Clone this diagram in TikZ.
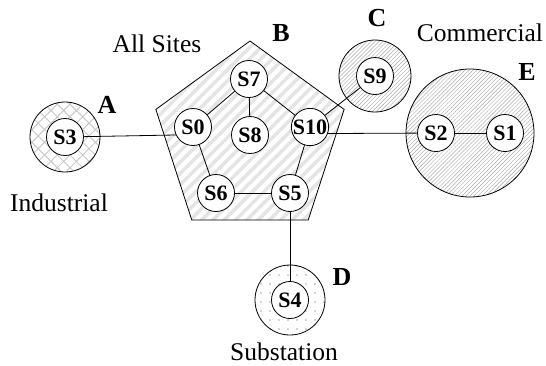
\documentclass[tikz,border=0pt]{standalone}
\usepackage{fontspec}
\setmainfont{Liberation Serif}
\usetikzlibrary{shapes.geometric, patterns.meta}
\definecolor{hcol}{RGB}{200,200,200}
\definecolor{scol}{RGB}{228,228,228}
\definecolor{lcol}{RGB}{170,170,170}
\definecolor{dotc}{RGB}{170,170,170}
\tikzset{
  ND/.style={circle, draw, fill=white, line width=0.8pt, inner sep=0pt,
             minimum size=37pt, font=\fontsize{22}{22}\selectfont\bfseries},
  RG/.style={circle, draw, line width=0.8pt, inner sep=0pt},
  LB/.style={font=\fontsize{26}{26}\selectfont\bfseries},
  TX/.style={font=\fontsize{25.5}{26}\selectfont},
  CN/.style={line width=0.8pt},
}

\begin{document}
\begin{tikzpicture}[x=1pt, y=-1pt]
\useasboundingbox (0,0) rectangle (546,365);

%% ================================================================
%%  ZONES
%% ================================================================
% B -- all sites
\node[regular polygon, regular polygon sides=5, minimum size=198pt,
      inner sep=0pt, draw, line width=0.8pt,
      pattern={Lines[angle=45, distance=8pt, line width=3.5pt]},
      pattern color=scol] (zoneB) at (250,140) {};

% A -- industrial
\node[RG, minimum size=70pt,
      pattern={Hatch[angle=45, distance=9pt, line width=1pt]},
      pattern color=hcol] (zoneA) at (65,137) {};

% C and E -- commercial
\node[RG, minimum size=72pt,
      pattern={Lines[angle=45, distance=2.8pt, line width=0.45pt]},
      pattern color=lcol] (zoneC) at (375,76) {};
\node[RG, minimum size=128pt,
      pattern={Lines[angle=45, distance=2.8pt, line width=0.45pt]},
      pattern color=lcol] (zoneE) at (470,133) {};

% D -- substation
\node[RG, minimum size=70pt,
      pattern={Dots[distance=9pt, radius=0.8pt]},
      pattern color=dotc] (zoneD) at (290,300) {};

%% ================================================================
%%  SITES
%% ================================================================
\node[ND] (S7)  at (249,79)  {S7};
\node[ND] (S0)  at (193,127) {S0};
\node[ND] (S8)  at (250,135) {S8};
\node[ND] (S10) at (310,127) {S10};
\node[ND] (S6)  at (216,193) {S6};
\node[ND] (S5)  at (290,193) {S5};
\node[ND] (S3)  at (zoneA)   {S3};
\node[ND] (S9)  at (zoneC)   {S9};
\node[ND] (S4)  at (zoneD)   {S4};
\node[ND] (S2)  at (436,133) {S2};
\node[ND] (S1)  at (505,133) {S1};

% links
\draw[CN] (S7) -- (S0);
\draw[CN] (S7) -- (S8);
\draw[CN] (S7) -- (S10);
\draw[CN] (S0) -- (S6);
\draw[CN] (S6) -- (S5);
\draw[CN] (S5) -- (S10);
\draw[CN] (S3) -- (S0.205);
\draw[CN] (S10) -- (S9);
\draw[CN] (S10.-20) -- (S2);
\draw[CN] (S2) -- (S1);
\draw[CN] (S5) -- (S4);

%% ================================================================
%%  LABELS
%% ================================================================
\node[LB] (labA) at (107,105) {A};
\node[LB] (labB) at (281,33)  {B};
\node[LB] (labC) at (377,18)  {C};
\node[LB] (labD) at (342,277) {D};
\node[LB] (labE) at (527,72)  {E};

\node[TX] (txtB) at (157,44)  {All Sites};
\node[TX] (txtA) at (59,203)  {Industrial};
\node[TX] (txtE) at (480,33)  {Commercial};
\node[TX] (txtD) at (284,352) {Substation};

\end{tikzpicture}
\end{document}
